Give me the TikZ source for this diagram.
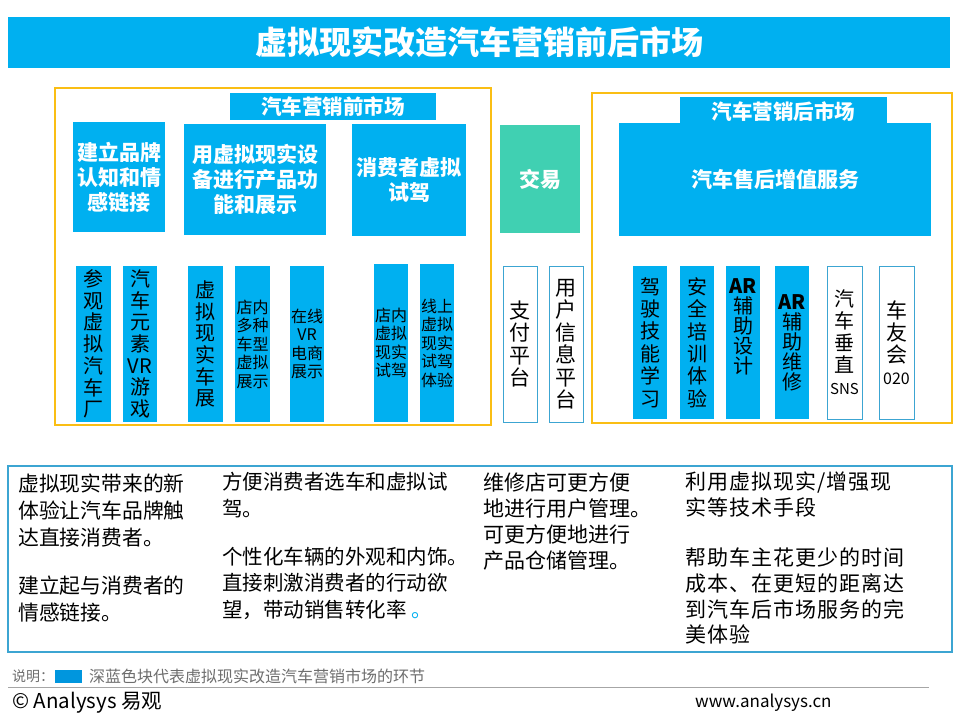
\documentclass[tikz,border=0pt]{standalone}
\usepackage{fontspec}
\setmainfont{Noto Sans CJK SC}
\newfontfamily\spacedfont[LetterSpace=5]{Noto Sans CJK SC}
\usetikzlibrary{calc,arrows.meta}
\definecolor{vblue}{RGB}{0,176,240}
\definecolor{arrblue}{RGB}{22,158,222}
\definecolor{vgreen}{RGB}{64,208,178}
\definecolor{vorange}{RGB}{250,190,20}
\definecolor{bordblue}{RGB}{60,165,210}
\definecolor{legblue}{RGB}{0,150,222}
\definecolor{footgray}{RGB}{110,110,110}
\pgfdeclarelayer{bg}
\pgfsetlayers{bg,main}
\tikzset{
  blk/.style={anchor=north west, inner sep=0pt, outer sep=0pt, align=center},
  bluebox/.style={blk, fill=vblue, text=white, font=\fontsize{21}{25}\selectfont\bfseries},
  bar/.style={blk, fill=vblue, text=black, font=\fontsize{20}{21.7}\selectfont},
  rbar/.style={blk, fill=vblue, text=black, font=\fontsize{20}{22.4}\selectfont},
  arbar/.style={blk, fill=vblue, text=black, font=\fontsize{20}{20}\selectfont},
  smallbar/.style={blk, fill=vblue, text=black, font=\fontsize{16}{18.5}\selectfont},
  wbar/.style={blk, fill=white, draw=bordblue, line width=1pt, text=black, font=\fontsize{21}{22.5}\selectfont},
  frame/.style={blk, draw=vorange, line width=2pt},
  arr/.style={draw=arrblue, line width=2.6pt, -{Triangle[width=10pt,length=7pt]}},
  desc/.style={anchor=north west, inner sep=0pt, align=left, font=\fontsize{20.5}{26.8}\selectfont},
}
\begin{document}
\begin{tikzpicture}[x=1pt,y=-1pt]
\useasboundingbox (0,0) rectangle (960,720);
\fill[white] (0,0) rectangle (960,720);

% title
\node[blk, fill=vblue, text=white, minimum width=942pt, minimum height=51pt,
      font=\fontsize{32}{34}\selectfont\bfseries] (title) at (8,17) {虚拟现实改造汽车营销前后市场};

% frames
\node[frame, minimum width=436pt, minimum height=337pt] (lframe) at (55,88) {};
\node[frame, minimum width=360pt, minimum height=330pt] (rframe) at (592,93) {};

% upper boxes
\node[bluebox, minimum width=92pt, minimum height=110pt] (bx1) at (73,122) {建立品牌\\认知和情\\感链接};
\node[bluebox, minimum width=142pt, minimum height=111pt] (bx2) at (184,124) {用虚拟现实设\\备进行产品功\\能和展示};
\node[bluebox, minimum width=114pt, minimum height=112pt] (bx3) at (352,124) {消费者虚拟\\试驾};
\node[blk, fill=vgreen, text=white, font=\fontsize{21}{25}\selectfont\bfseries,
      minimum width=80pt, minimum height=108pt] (jy) at (500,125) {交易};
\node[bluebox, minimum width=312pt, minimum height=113pt] (big) at (619,123) {汽车售后增值服务};

% bars left
\node[bar, minimum width=35pt, minimum height=156pt] (b1) at (76,266) {参\\观\\虚\\拟\\汽\\车\\厂};
\node[bar, minimum width=34pt, minimum height=156pt] (b2) at (123,266) {汽\\车\\元\\素\\VR\\游\\戏};
\node[bar, minimum width=35pt, minimum height=156pt] (b3) at (188,266) {虚\\拟\\现\\实\\车\\展};
\node[smallbar, minimum width=35pt, minimum height=156pt] (b4) at (235,266) {店内\\多种\\车型\\虚拟\\展示};
\node[smallbar, minimum width=34pt, minimum height=156pt] (b5) at (290,266) {在线\\VR\\电商\\展示};
\node[smallbar, minimum width=34pt, minimum height=158pt] (b6) at (374,264) {店内\\虚拟\\现实\\试驾};
\node[smallbar, minimum width=34pt, minimum height=158pt] (b7) at (420,264) {线上\\虚拟\\现实\\试驾\\体验};

% bars middle
\node[wbar, minimum width=34pt, minimum height=156pt] (zf) at (503,266) {支\\付\\平\\台};
\node[wbar, minimum width=34pt, minimum height=156pt] (yh) at (549,266) {用\\户\\信\\息\\平\\台};

% bars right
\node[rbar, minimum width=34pt, minimum height=153pt] (jj) at (633,266) {驾\\驶\\技\\能\\学\\习};
\node[rbar, minimum width=34pt, minimum height=153pt] (aq) at (680,266) {安\\全\\培\\训\\体\\验};
\node[arbar, minimum width=34pt, minimum height=153pt] (ars) at (726,266) {};
\node[arbar, anchor=center, fill=none, yshift=16pt] (arst) at (ars.center) {\textbf{AR}\\辅\\助\\设\\计};
\node[arbar, minimum width=34pt, minimum height=153pt] (arw) at (775,266) {\textbf{AR}\\辅\\助\\维\\修};
\node[wbar, minimum width=35pt, minimum height=153pt, font=\fontsize{20}{22}\selectfont] (sns) at (827,266) {汽\\车\\垂\\直\\{\fontsize{15}{16}\selectfont SNS}};
\node[wbar, minimum width=35pt, minimum height=153pt, font=\fontsize{21}{22}\selectfont] (cyh) at (879,266) {车\\友\\会\\{\fontsize{16}{17}\selectfont 020}};

% labels on top
\node[bluebox, minimum width=206pt, minimum height=27pt, font=\fontsize{20.5}{24}\selectfont\bfseries] (pre) at (230,93) {汽车营销前市场};
\node[bluebox, minimum width=207pt, minimum height=30pt, font=\fontsize{20.5}{24}\selectfont\bfseries] (post) at (680,97) {汽车营销后市场};

% bottom description box
\node[blk, draw=bordblue, line width=1.5pt, minimum width=944pt, minimum height=186pt] (dbox) at (8,466) {};
\node[desc, font=\fontsize{20.8}{26.8}\selectfont] (d1) at (18,474) {虚拟现实带来的新\\体验让汽车品牌触\\达直接消费者。\\[21pt]建立起与消费者的\\情感链接。};
\node[desc] (d2) at (222,472) {方便消费者选车和虚拟试\\驾。\\[21pt]个性化车辆的外观和内饰。\\直接刺激消费者的行动欲\\望，带动销售转化率 {\color{vblue}。}};
\node[desc, font=\fontsize{21}{25.8}\selectfont] (d3) at (483,473) {维修店可更方便\\地进行用户管理。\\可更方便地进行\\产品仓储管理。};
\node[desc, font=\spacedfont\fontsize{21}{25.8}\selectfont] (d4) at (685,472) {利用虚拟现实/增强现\\实等技术手段\\[24pt]帮助车主花更少的时间\\成本、在更短的距离达\\到汽车后市场服务的完\\美体验};

% footer
\node[anchor=west, inner sep=0pt, text=footgray, font=\fontsize{14}{16}\selectfont] (sm) at (12,676) {说明：};
\node[blk, fill=legblue, minimum width=27pt, minimum height=13pt] (leg) at (55,670) {};
\node[anchor=west, inner sep=0pt, text=footgray, font=\fontsize{16}{18}\selectfont] (legt) at (89,676) {深蓝色块代表虚拟现实改造汽车营销市场的环节};
\draw[gray!70, line width=0.8pt] (8,687) -- (929,687);
\node[anchor=west, inner sep=0pt, font=\fontsize{20.5}{22}\selectfont] (cp) at (12,703) {© Analysys 易观};
\node[anchor=west, inner sep=0pt, font=\fontsize{17}{19}\selectfont] (www) at (695,703) {www.analysys.cn};

\coordinate (t5) at (792,68);
\begin{pgfonlayer}{bg}
\draw[arr] (title.south -| bx1.north) -- (bx1.north);
\draw[arr] (title.south -| bx2.north) -- (bx2.north);
\draw[arr] (title.south -| bx3.north) -- (bx3.north);
\draw[arr] (title.south -| jy.north) -- (jy.north);
\draw[arr] (t5) -- (t5 |- big.north);
\draw[arr] (bx1.south) -- (bx1.south |- b1.north);
\draw[arr] (bx2.south) -- (bx2.south |- b4.north);
\draw[arr] (bx3.south) -- (bx3.south |- b6.north);
\draw[arr] (jy.south) -- (jy.south |- zf.north);
\draw[arr] ([xshift=12pt]aq.north |- big.south) -- ([xshift=12pt]aq.north);
\draw[arr] ($(sns.north)!0.5!(cyh.north)$ |- big.south) -- ($(sns.north)!0.5!(cyh.north)$);
\foreach \b in {b1,b2,b3,b4,b5,b6,b7,zf,yh,jj,aq,ars,arw}{
  \draw[arr, shorten <=6pt, shorten >=5pt] (\b.south) -- (\b.south |- dbox.north);
}
\end{pgfonlayer}
\end{tikzpicture}
\end{document}
